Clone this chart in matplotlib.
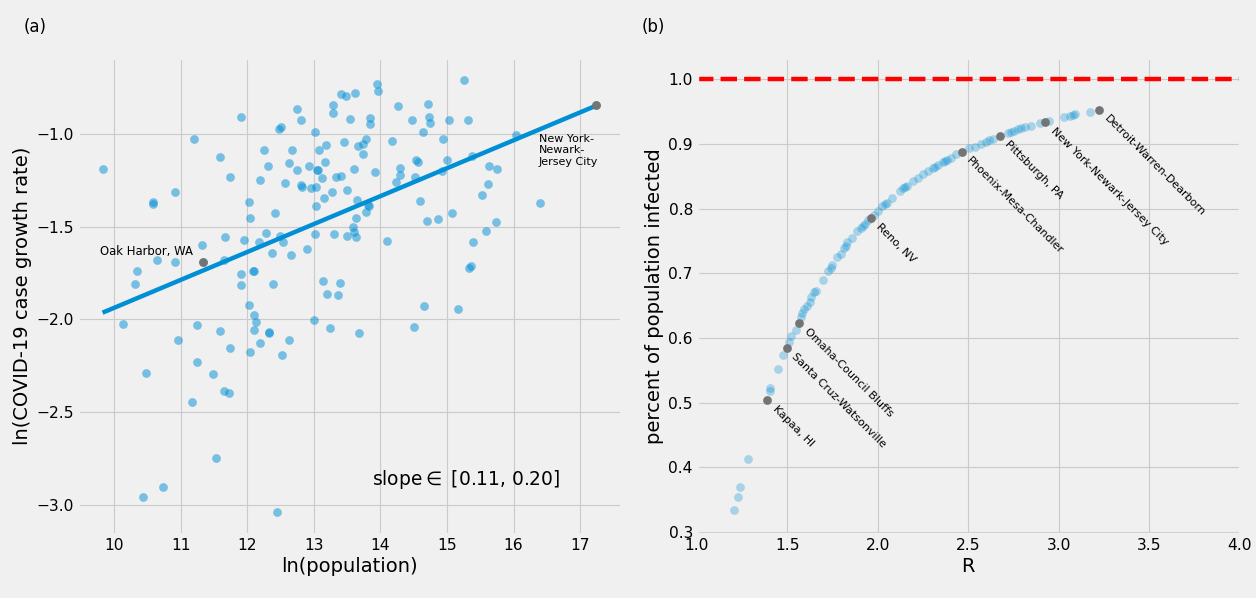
import matplotlib
matplotlib.use("Agg")
import matplotlib.pyplot as plt

plt.style.use("fivethirtyeight")
plt.rcParams["axes.labelsize"] = 17.5

# ---- panel (a): log population vs log case growth rate, one dot per metro area
ln_pop = [
    9.825, 11.905, 11.20, 11.585, 11.735, 10.59, 10.58, 10.92, 12.02, 12.035,
    12.415, 12.185, 12.245, 12.305, 12.48, 12.505, 12.74, 12.80, 12.67, 12.625,
    12.57, 12.75, 12.81, 12.815, 12.92, 12.95, 13.03, 13.02, 13.07, 13.185,
    13.16, 13.04, 13.06, 13.125, 13.035, 13.145, 13.265, 13.335, 13.405, 13.29,
    13.28, 13.405, 13.48, 13.625, 13.545, 13.45, 13.67, 13.735, 13.785, 13.735,
    13.85, 13.84, 13.945, 13.965, 13.605, 13.925, 13.505, 13.645, 13.82, 13.83,
    13.785, 13.635, 13.585, 13.61, 13.635, 13.505, 13.30, 13.02, 12.89, 12.66,
    12.535, 12.485, 12.275, 12.175, 11.955, 12.365, 11.67, 11.315, 11.33, 11.645,
    10.92, 10.64, 10.34, 10.315, 11.905, 11.905, 12.09, 12.10, 12.39, 13.135,
    13.395, 13.20, 13.365, 12.02,
    15.25, 14.715, 14.265, 14.735, 14.74, 14.48, 15.035, 15.315, 14.635, 14.945,
    14.175, 16.03, 14.53, 14.56, 15.005, 14.29, 14.29, 14.23, 14.52, 14.925,
    15.37, 15.625, 15.75, 15.61, 15.52, 16.39, 14.595, 15.075, 14.865, 14.70,
    15.735, 15.58, 14.10, 15.39, 15.33, 15.355, 14.65, 15.16, 17.24,
    12.095, 12.135, 12.095, 12.325, 12.33, 12.185, 12.045, 12.62, 12.515, 12.995,
    13.24, 13.675, 10.135, 11.24, 11.585, 10.955, 11.735, 11.25, 10.48, 11.48,
    11.645, 11.73, 11.175, 11.53, 10.74, 10.44, 12.445, 14.51,
]
ln_growth = [
    -1.189, -0.909, -1.025, -1.125, -1.230, -1.368, -1.377, -1.3125, -1.364, -1.454,
    -1.427, -1.248, -1.084, -1.175, -0.971, -0.961, -0.864, -0.923, -1.0875, -1.157,
    -1.2625, -1.193, -1.275, -1.286, -1.175, -1.289, -1.286, -0.991, -1.0875, -1.057,
    -1.152, -1.196, -1.193, -1.236, -1.386, -1.345, -1.3125, -1.230, -1.227, -0.845,
    -0.8875, -0.782, -0.795, -0.777, -0.920, -1.043, -1.0625, -1.052, -1.029, -1.107,
    -0.9125, -0.946, -0.730, -0.768, -1.189, -1.204, -1.302, -1.355, -1.384, -1.389,
    -1.418, -1.454, -1.504, -1.529, -1.555, -1.55, -1.541, -1.541, -1.620, -1.655,
    -1.584, -1.55, -1.532, -1.582, -1.573, -1.641, -1.555, -1.60, -1.691, -1.682,
    -1.6875, -1.679, -1.739, -1.807, -1.755, -1.816, -1.736, -1.738, -1.807, -1.793,
    -1.802, -1.861, -1.866, -1.921,
    -0.707, -0.836, -0.85, -0.911, -0.941, -0.923, -0.927, -0.923, -0.9875, -1.029,
    -1.0375, -1.007, -1.141, -1.152, -1.141, -1.184, -1.221, -1.257, -1.234, -1.202,
    -1.12, -1.171, -1.189, -1.271, -1.33, -1.371, -1.359, -1.427, -1.459, -1.468,
    -1.477, -1.523, -1.577, -1.582, -1.723, -1.712, -1.929, -1.943, -0.845,
    -1.975, -2.013, -2.059, -2.072, -2.070, -2.128, -2.173, -2.108, -2.19, -2.004,
    -2.045, -2.072, -2.022, -2.031, -2.063, -2.11, -2.155, -2.228, -2.288, -2.293,
    -2.385, -2.399, -2.446, -2.745, -2.901, -2.957, -3.04, -2.04,
]

# fitted line
fit_slope = 0.1505
fit_intercept = -3.442

a_names = ["Oak Harbor, WA", "New York-\nNewark-\nJersey City"]
a_x = [11.33, 17.24]
a_y = [-1.691, -0.845]

# ---- panel (b): R vs share of population infected
R_vals = [
    1.207, 1.228, 1.241, 1.285, 1.402, 1.407, 1.45, 1.478, 1.509, 1.522,
    1.546, 1.574, 1.583, 1.593, 1.607, 1.626,
    1.631, 1.650, 1.659, 1.695, 1.723, 1.741, 1.750, 1.777, 1.796, 1.814,
    1.823, 1.832, 1.859, 1.887, 1.905, 1.920, 1.927, 1.945, 1.978, 2.000,
    2.024, 2.042, 2.051, 2.078, 2.124, 2.142, 2.151, 2.161, 2.197, 2.224,
    2.252, 2.279, 2.307, 2.316, 2.334, 2.361, 2.370, 2.380, 2.407, 2.434,
    2.507, 2.535, 2.571, 2.599,
    2.616, 2.635, 2.718, 2.737, 2.755, 2.774, 2.792, 2.811, 2.848, 2.894,
    2.949, 3.032, 3.060, 3.079, 3.088, 3.171,
]
infected = [
    0.3335, 0.354, 0.369, 0.413, 0.518, 0.522, 0.5526, 0.574, 0.594, 0.603,
    0.612, 0.632, 0.639, 0.645, 0.649, 0.656,
    0.663, 0.671, 0.673, 0.689, 0.704, 0.709, 0.713, 0.725, 0.730, 0.740,
    0.743, 0.748, 0.755, 0.766, 0.770, 0.773, 0.776, 0.782, 0.790, 0.796,
    0.804, 0.808, 0.809, 0.817, 0.827, 0.832, 0.833, 0.835, 0.843, 0.848,
    0.853, 0.858, 0.863, 0.864, 0.868, 0.872, 0.873, 0.876, 0.879, 0.884,
    0.894, 0.896, 0.900, 0.903,
    0.9056, 0.9077, 0.917, 0.918, 0.9205, 0.923, 0.9246, 0.926, 0.928, 0.932,
    0.936, 0.942, 0.944, 0.945, 0.946, 0.949,
]

b_names = ["Kapaa, HI", "Santa Cruz-Watsonville", "Omaha-Council Bluffs", "Reno, NV",
           "Phoenix-Mesa-Chandler", "Pittsburgh, PA", "New York-Newark-Jersey City",
           "Detroit-Warren-Dearborn"]
b_R = [1.389, 1.496, 1.565, 1.960, 2.463, 2.676, 2.927, 3.223]
b_inf = [0.5036, 0.5845, 0.624, 0.785, 0.888, 0.9128, 0.9333, 0.9523]

blue = "#008fd5"
grey = "#747474"

fig, (ax1, ax2) = plt.subplots(1, 2, figsize=(15.7, 7.475), dpi=80)
fig.subplots_adjust(left=0.062, right=0.987, top=0.903, bottom=0.107, wspace=0.14)

# (a)
ax1.scatter(ln_pop, ln_growth, s=62, color=blue, alpha=0.5, linewidths=0)
xs = [min(ln_pop), max(ln_pop)]
ax1.plot(xs, [fit_intercept + fit_slope * v for v in xs], color=blue, lw=4)
ax1.scatter(a_x, a_y, s=62, color=grey, linewidths=0, zorder=3)
ax1.text(11.18, -1.635, a_names[0], fontsize=10.5, ha="right", va="center")
ax1.text(16.375, -1.089, a_names[1], fontsize=10, ha="left", va="center")
ax1.text(13.88, -2.864, r"slope$\in$ [0.11, 0.20]", fontsize=16.8, va="center")
ax1.set_xlabel("ln(population)")
ax1.set_ylabel("ln(COVID-19 case growth rate)")

# (b)
ax2.scatter(R_vals, infected, s=62, color=blue, alpha=0.3, linewidths=0)
ax2.scatter(b_R, b_inf, s=62, color=grey, linewidths=0, zorder=3)
for name, r, p in zip(b_names, b_R, b_inf):
    ax2.annotate(name, (r, p), xytext=(3, -3), textcoords="offset points",
                 rotation=-45, fontsize=10, ha="left", va="top")
ax2.axhline(1.0, color="red", ls="--", lw=4)
ax2.set_xlim(1.0, 4.0)
ax2.set_ylim(0.297, 1.033)
ax2.set_xlabel("R")
ax2.set_ylabel("percent of population infected")

fig.text(24 / 1256, 1 - 27 / 598, "(a)", fontsize=15, va="center")
fig.text(642 / 1256, 1 - 27 / 598, "(b)", fontsize=15, va="center")

fig.savefig("out.png", dpi=80)
